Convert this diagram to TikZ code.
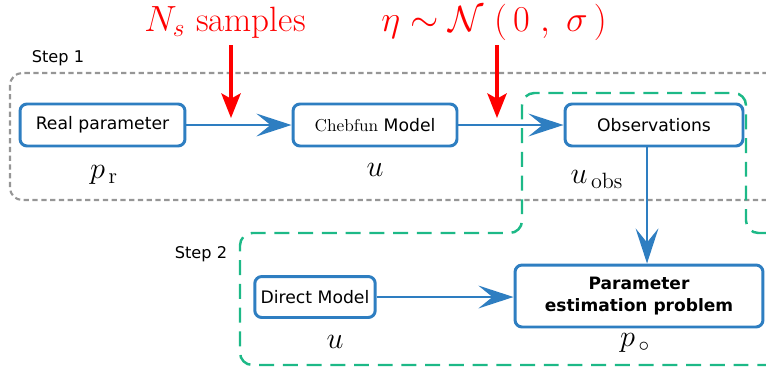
\documentclass[tikz,border=0pt]{standalone}
\usepackage{amsmath, tikz, xcolor}
\usepackage{fontspec}
\setsansfont{DejaVu Sans}
\usetikzlibrary{arrows.meta, calc}

\definecolor{boxblue}{RGB}{46,126,193}
\definecolor{stepgreen}{RGB}{29,185,135}
\definecolor{stepgray}{RGB}{150,150,150}

\begin{document}
\begin{tikzpicture}[x=0.02cm, y=-0.02cm,
    block/.style={draw=boxblue, line width=1.7pt, rounded corners=4pt, align=center,
        minimum height=0.84cm, font=\sffamily\fontsize{9.8}{11}\selectfont},
    conn/.style={draw=boxblue, line width=1.1pt, -{Stealth[length=20pt, width=13pt, inset=8pt]}},
    noise/.style={draw=red, line width=1.8pt, -{Stealth[length=14pt, width=11pt, inset=3pt]}},
    input/.style={red, inner sep=0pt, font=\fontsize{20}{22}\selectfont},
    lbl/.style={font=\fontsize{18}{20}\selectfont},
    steplbl/.style={font=\sffamily\fontsize{9.2}{10}\selectfont}]
    % Frame
    \useasboundingbox (0,0) rectangle (766,372);
    % Step regions
    \draw[stepgray, line width=1.2pt, dash pattern=on 3pt off 2pt, rounded corners=7pt]
        (10,73) rectangle (790,200);
    \draw[stepgreen, line width=1.4pt, dash pattern=on 8.5pt off 5pt, rounded corners=7pt]
        (790,233) -- (746,233) -- (746,93) -- (522,93) -- (522,233)
        -- (240,233) -- (240,365) -- (790,365);
    \node[steplbl] (step1) at (58,58) {Step 1};
    \node[steplbl] (step2) at (201,254) {Step 2};
    % Boxes
    \node[block, minimum width=3.3cm] (real) at (102.5,125) {Real parameter};
    \node[block, minimum width=3.28cm] (cheb) at (375,125) {{\rmfamily Chebfun} Model};
    \node[block, minimum width=3.56cm] (obs) at (654,125) {Observations};
    \node[block, minimum width=2.4cm, minimum height=0.82cm] (direct) at (315,297) {Direct Model};
    \node[block, minimum width=4.96cm, minimum height=1.24cm, font=\sffamily\bfseries\fontsize{9.7}{12.5}\selectfont]
        (est) at (639,296) {Parameter\\estimation problem};
    % Connectors
    \coordinate (overt) at (647,0);
    \draw[conn] (real) -- (cheb);
    \draw[conn] (cheb) -- (obs);
    \draw[conn] (obs.south -| overt) -- (est.north -| overt);
    \draw[conn] (direct.east) -- (direct.east -| est.west);
    % Noise and sampling inputs
    \node[input] (samples) at (225,22.5) {$N_s$ samples};
    \node[input] (eta) at (494,22.5) {$\eta\sim\mathcal{N}\;(\,0\;,\;\sigma\,)$};
    \coordinate (samplesin) at (231,118);
    \coordinate (etain) at (497,118);
    \draw[noise] (231,45) -- (samplesin);
    \draw[noise] (497,45) -- (etain);
    % Variables
    \node[lbl] (pr) at (104,175) {$p_{\,\mathrm{r}}$};
    \node[lbl] (u1) at (375,170) {$u$};
    \node[lbl] (uobs) at (597,180) {$u_{\,\mathrm{obs}}$};
    \node[lbl] (u2) at (335,342) {$u$};
    \node[lbl] (po) at (635,343) {$p_{\,\circ}$};
\end{tikzpicture}
\end{document}
